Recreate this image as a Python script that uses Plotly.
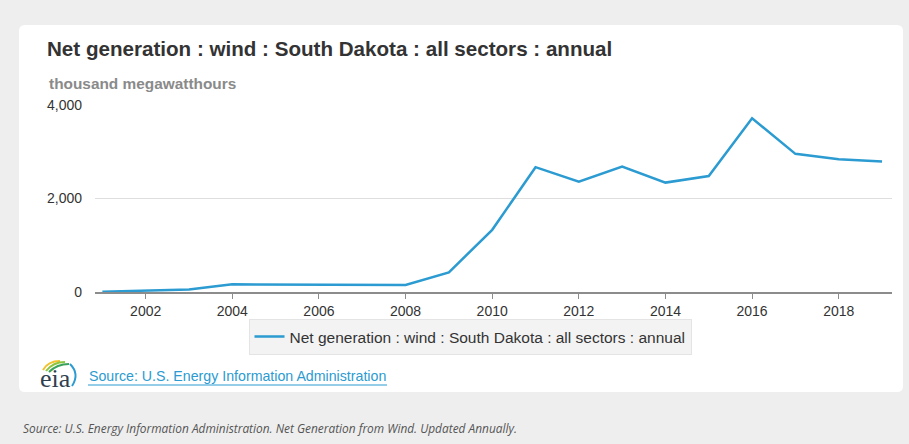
import plotly.graph_objects as go

years = list(range(2001, 2020))
values = [5, 25, 55, 165, 162, 155, 152, 150, 420, 1330, 2670, 2360, 2685, 2340, 2480, 3715, 2955, 2840, 2790]
series_name = "Net generation : wind : South Dakota : all sectors : annual"
x_ticks = [2002, 2004, 2006, 2008, 2010, 2012, 2014, 2016, 2018]
y_ticks = [0, 2000, 4000]
y_tick_text = ["0", "2,000", "4,000"]

W, H = 909, 444
L, R, T, B = 95, 892, 105, 292
pw, ph = R - L, B - T

def px(x):
    return (x - L) / pw

def py(y):
    return (B - y) / ph

FONT = "Liberation Sans, Arial, sans-serif"
BLUE = "#2b9bd1"

fig = go.Figure()
fig.add_trace(go.Scatter(x=years, y=values, mode="lines", name=series_name,
                         line=dict(color=BLUE, width=2.5)))

shapes = []
# white card with rounded corners
x0, y0, x1, y1, r = 19, 25, 903, 392, 6
path = (f"M {px(x0+r)},{py(y0)} L {px(x1-r)},{py(y0)} Q {px(x1)},{py(y0)} {px(x1)},{py(y0+r)} "
        f"L {px(x1)},{py(y1-r)} Q {px(x1)},{py(y1)} {px(x1-r)},{py(y1)} "
        f"L {px(x0+r)},{py(y1)} Q {px(x0)},{py(y1)} {px(x0)},{py(y1-r)} "
        f"L {px(x0)},{py(y0+r)} Q {px(x0)},{py(y0)} {px(x0+r)},{py(y0)} Z")
shapes.append(dict(type="path", xref="paper", yref="paper", path=path,
                   fillcolor="white", line=dict(width=0), layer="below"))
# eia logo arcs
arcs = [
    ("#f2c12e", (43, 370, 60, 361, 48, 361)),
    ("#8cc63f", (46, 371, 65, 362, 53, 362)),
    ("#3aa35b", (49, 372, 69, 364, 57, 364)),
    ("#2b9bd1", (70, 364, 72, 386, 80, 374)),
]
for col, (ax0, ay0, ax1, ay1, cx, cy) in arcs:
    shapes.append(dict(type="path", xref="paper", yref="paper",
                       path=f"M {px(ax0)},{py(ay0)} Q {px(cx)},{py(cy)} {px(ax1)},{py(ay1)}",
                       line=dict(color=col, width=2)))
# underline of source link
shapes.append(dict(type="line", xref="paper", yref="paper",
                   x0=px(88), x1=px(387), y0=py(385), y1=py(385),
                   line=dict(color=BLUE, width=1)))

annotations = [
    dict(text="<b>Net generation : wind : South Dakota : all sectors : annual</b>",
         x=px(45), y=py(49), xref="paper", yref="paper", xanchor="left", yanchor="middle",
         showarrow=False, font=dict(family=FONT, size=20.6, color="#333333")),
    dict(text="<b>thousand megawatthours</b>",
         x=px(47), y=py(83), xref="paper", yref="paper", xanchor="left", yanchor="middle",
         showarrow=False, font=dict(family=FONT, size=15.4, color="#8a8a8a")),
    dict(text="eia", x=px(38), y=py(378), xref="paper", yref="paper", xanchor="left", yanchor="middle",
         showarrow=False, font=dict(family="Liberation Serif, DejaVu Serif, serif", size=26, color="#2f3f4f")),
    dict(text="Source: U.S. Energy Information Administration",
         x=px(87), y=py(376), xref="paper", yref="paper", xanchor="left", yanchor="middle",
         showarrow=False, font=dict(family=FONT, size=14.2, color=BLUE)),
    dict(text="<i>Source: U.S. Energy Information Administration. Net Generation from Wind. Updated Annually.</i>",
         x=px(21), y=py(428), xref="paper", yref="paper", xanchor="left", yanchor="middle",
         showarrow=False, font=dict(family="Open Sans, sans-serif", size=11.9, color="#555555")),
]

fig.update_layout(
    width=W, height=H,
    margin=dict(l=L, r=W - R, t=T, b=H - B, pad=0),
    paper_bgcolor="#eeeeee", plot_bgcolor="white",
    font=dict(family=FONT, size=14, color="#333333"),
    showlegend=True,
    legend=dict(x=px(470), y=py(337), xanchor="center", yanchor="middle",
                orientation="h", bgcolor="#f3f3f3", bordercolor="#e4e4e4", borderwidth=1,
                font=dict(family=FONT, size=15.5, color="#333333"), itemwidth=30),
    shapes=shapes, annotations=annotations,
    xaxis=dict(range=[2000.83, 2019.23], tickvals=x_ticks, ticktext=[str(v) for v in x_ticks],
               showgrid=False, zeroline=False, showline=True, linecolor="#8c8c8c", linewidth=2,
               ticks="outside", ticklen=5, tickcolor="#8c8c8c", tickwidth=1,
               tickfont=dict(size=14, color="#333333")),
    yaxis=dict(range=[0, 4000], tickvals=y_ticks, ticktext=y_tick_text,
               showgrid=True, gridcolor="#dedede", gridwidth=1, zeroline=False,
               ticks="", ticklabelstandoff=12, tickfont=dict(size=14, color="#333333")),
)

fig.write_html("out.html", config={"displayModeBar": False},
               post_script="document.body.style.margin='0';document.body.style.background='#eeeeee';")
